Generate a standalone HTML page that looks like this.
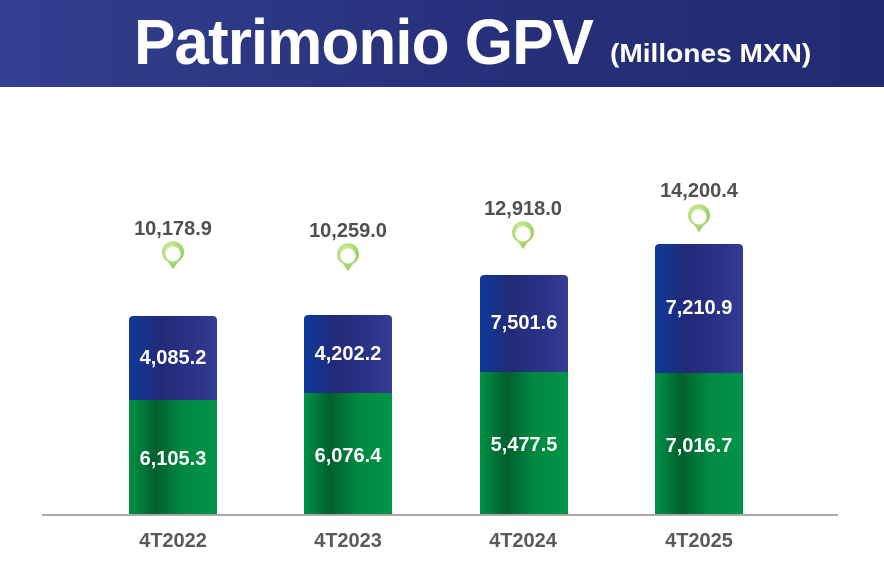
<!DOCTYPE html>
<html><head><style>
body{margin:0;width:884px;height:584px;background:#fff;position:relative;overflow:hidden;font-family:"Liberation Sans",sans-serif;}
.hdr{position:absolute;left:0;top:0;width:884px;height:87px;background:linear-gradient(90deg,#33408f,#262f78 60%,#222a72);}
.t{position:absolute;left:134px;top:6px;color:#fff;font-weight:bold;font-size:64px;letter-spacing:-1px;transform:scaleX(0.97);transform-origin:left;white-space:nowrap;line-height:1.15;}
.s{position:absolute;left:610px;top:39px;color:#fff;font-weight:bold;font-size:26px;transform:scaleX(1.08);transform-origin:left;white-space:nowrap;line-height:1.15;}
.b{position:absolute;left:0;width:88px;border-radius:4px 4px 0 0;background:linear-gradient(90deg,#0f3a9a 0%,#222a78 35%,#2a3286 70%,#343d92 100%);color:#fff;font-weight:bold;font-size:20px;text-align:center;}
.g{position:absolute;left:0;width:88px;background:linear-gradient(90deg,#009245 0%,#005f2e 30%,#00883f 60%,#009548 100%);color:#fff;font-weight:bold;font-size:20px;text-align:center;}
.tot{position:absolute;width:120px;text-align:center;color:#505050;font-weight:bold;font-size:20px;}
.x{position:absolute;width:120px;text-align:center;color:#5a5a5a;font-weight:bold;font-size:20px;top:530px;}
.axis{position:absolute;left:42px;top:514px;width:796px;height:2px;background:#a8a8a8;}
</style></head><body>
<div class="hdr"></div>
<div class="t">Patrimonio GPV</div>
<div class="s">(Millones MXN)</div>

<svg width="884" height="584" style="position:absolute;left:0;top:0">
<defs><radialGradient id="pg" cx="0.4" cy="0.35" r="0.7"><stop offset="0" stop-color="#e0f5b0"/><stop offset="1" stop-color="#8cc850"/></radialGradient>
<g id="pin"><path d="M0,15 L-5,8 A11,11 0 1 1 5,8 Z" fill="url(#pg)"/><circle cx="0" cy="0" r="7.5" fill="#fff"/></g></defs>
<use href="#pin" x="173" y="254"/>
<use href="#pin" x="348" y="256"/>
<use href="#pin" x="523" y="234"/>
<use href="#pin" x="699" y="217"/>
</svg>

<div class="tot" style="left:113px;top:218px">10,178.9</div>
<div class="tot" style="left:288px;top:220px">10,259.0</div>
<div class="tot" style="left:463px;top:198px">12,918.0</div>
<div class="tot" style="left:639px;top:180px">14,200.4</div>

<div class="b" style="left:129px;top:316px;height:84px;line-height:84px">4,085.2</div>
<div class="g" style="left:129px;top:400px;height:115px;line-height:118px">6,105.3</div>
<div class="b" style="left:304px;top:315px;height:78px;line-height:78px">4,202.2</div>
<div class="g" style="left:304px;top:393px;height:122px;line-height:126px">6,076.4</div>
<div class="b" style="left:480px;top:275px;height:97px;line-height:97px">7,501.6</div>
<div class="g" style="left:480px;top:372px;height:143px;line-height:146px">5,477.5</div>
<div class="b" style="left:655px;top:244px;height:129px;line-height:129px">7,210.9</div>
<div class="g" style="left:655px;top:373px;height:142px;line-height:146px">7,016.7</div>

<div class="axis"></div>
<div class="x" style="left:113px">4T2022</div>
<div class="x" style="left:288px">4T2023</div>
<div class="x" style="left:463px">4T2024</div>
<div class="x" style="left:639px">4T2025</div>
</body></html>
